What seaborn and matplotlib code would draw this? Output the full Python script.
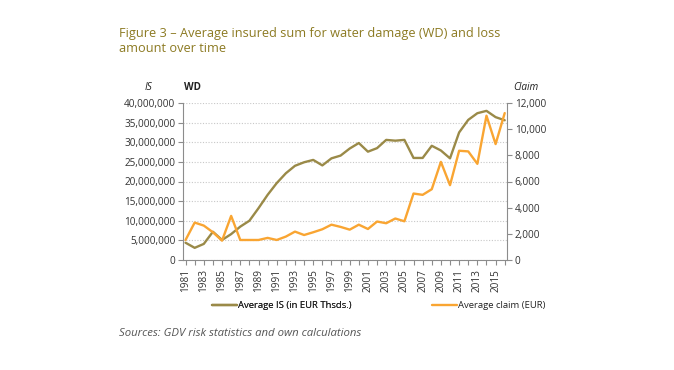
import matplotlib
matplotlib.use("Agg")
import matplotlib.pyplot as plt
import seaborn as sns
import pandas as pd
import numpy as np
from matplotlib.ticker import FuncFormatter, MultipleLocator

years = list(range(1981, 2017))
avg_is = [4.4, 3.1, 4.1, 7.2, 5.1, 6.6, 8.5, 10.0, 13.2, 16.6, 19.6, 22.1, 24.0, 24.9,
          25.5, 24.1, 25.9, 26.6, 28.4, 29.8, 27.6, 28.5, 30.6, 30.4, 30.6, 26.0,
          26.0, 29.1, 27.9, 25.9, 32.5, 35.7, 37.4, 38.0, 36.4, 35.6]
avg_is = [v * 1_000_000 for v in avg_is]
avg_claim = [1530, 2860, 2630, 2120, 1480, 3370, 1530, 1530, 1530, 1690, 1530, 1790,
             2170, 1910, 2120, 2350, 2700, 2530, 2320, 2700, 2370, 2940, 2810, 3170,
             2960, 5080, 4980, 5410, 7500, 5720, 8350, 8300, 7350, 11030, 8860, 11230]

title = "Figure 3 \u2013 Average insured sum for water damage (WD) and loss\namount over time"
label_is = "Average IS (in EUR Thsds.)"
label_claim = "Average claim (EUR)"
source = "Sources: GDV risk statistics and own calculations"

OLIVE = "#9A8A48"
ORANGE = "#F9A532"
TITLE_C = "#8C7A22"
GREY = "#8C8C8C"

df = pd.DataFrame({"year": years, "is": avg_is, "claim": avg_claim})

sns.set_theme(style="white")
plt.rcParams["font.family"] = ["Open Sans", "DejaVu Sans"]

fig = plt.figure(figsize=(6.74, 3.70), dpi=100)
ax = fig.add_axes([183/674, 1-260/370, (507-183)/674, (260-103)/370])
ax2 = ax.twinx()

sns.lineplot(data=df, x="year", y="is", ax=ax, color=OLIVE, linewidth=1.7, label=label_is, legend=False)
sns.lineplot(data=df, x="year", y="claim", ax=ax2, color=ORANGE, linewidth=1.7, label=label_claim, legend=False)

ax.set_xlim(1980.72, 2016.25)
ax.set_ylim(0, 40_000_000)
ax2.set_ylim(0, 12000)
ax.yaxis.set_major_locator(MultipleLocator(5_000_000))
ax2.yaxis.set_major_locator(MultipleLocator(2000))
fmt = FuncFormatter(lambda v, p: f"{int(v):,}")
ax.yaxis.set_major_formatter(fmt)
ax2.yaxis.set_major_formatter(fmt)
ax.set_xticks(years[::2])
ax.set_xticks(years, minor=True)
ax.set_xticklabels([str(y) for y in years[::2]], rotation=90)
ax.set_xlabel("")
ax.set_ylabel("")
ax2.set_ylabel("")

ax.grid(axis="y", color="#C8C8C8", linestyle=(0, (1, 1.5)), linewidth=0.8)
ax.grid(axis="x", visible=False)
ax2.grid(False)

for a in (ax, ax2):
    for s in a.spines.values():
        s.set_color(GREY)
        s.set_linewidth(0.8)
    a.spines["top"].set_visible(False)
ax.spines["right"].set_visible(False)
ax2.spines["left"].set_visible(False)
ax2.spines["bottom"].set_visible(False)

tick_kw = dict(colors=GREY, labelcolor="#333333", labelsize=7.2, width=0.8)
ax.tick_params(axis="y", which="major", direction="out", length=3.5, pad=2, left=True, **tick_kw)
ax.tick_params(axis="x", which="both", direction="out", length=3.5, pad=3, bottom=True, **tick_kw)
ax2.tick_params(axis="y", which="major", direction="out", length=3.5, pad=2, right=True, **tick_kw)

fig.text(119/674, 1-27/370, title, color=TITLE_C, fontsize=9.15, va="top", ha="left", linespacing=1.15)
fig.text(148/674, 1-87/370, "IS", fontsize=7.2, style="italic", ha="center", va="center", color="#222222")
fig.text(184/674, 1-87/370, "WD", fontsize=7.2, weight="bold", ha="left", va="center", color="#222222")
fig.text(526/674, 1-87/370, "Claim", fontsize=7.2, style="italic", ha="center", va="center", color="#222222")
fig.text(119/674, 1-333/370, source, fontsize=8.2, style="italic", ha="left", va="center", color="#555555")

h1, l1 = ax.get_legend_handles_labels()
h2, l2 = ax2.get_legend_handles_labels()
leg_kw = dict(loc="center left", frameon=False, fontsize=6.8, handlelength=2.65,
              handletextpad=0.1, borderpad=0, borderaxespad=0, labelcolor="#222222")
leg1 = fig.legend(h1, l1, bbox_to_anchor=(212/674, 1-306/370), **leg_kw)
fig.add_artist(leg1)
fig.legend(h2, l2, bbox_to_anchor=(432/674, 1-306/370), **leg_kw)

fig.savefig("out.png", dpi=100)
